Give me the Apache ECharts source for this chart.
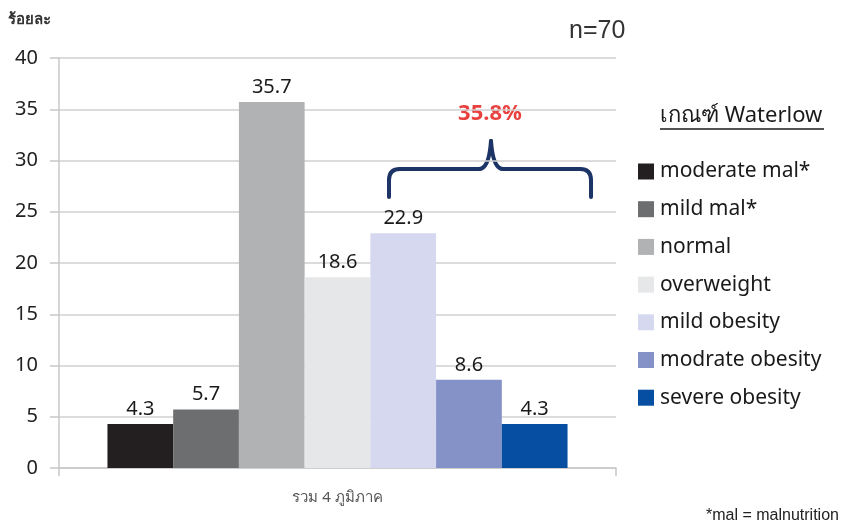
<!DOCTYPE html>
<html>
<head>
<meta charset="utf-8">
<script src="https://cdn.jsdelivr.net/npm/echarts@6/dist/echarts.min.js"></script>
<style>
  html, body { margin: 0; padding: 0; background: #fff; }
  #chart { width: 846px; height: 526px; }
</style>
</head>
<body>
<div id="chart"></div>
<script>
// Waterlow criteria: share of children (%) in each nutrition class, all 4 regions combined
const categories = ['รวม 4 ภูมิภาค'];
const seriesNames = ['moderate mal*', 'mild mal*', 'normal', 'overweight', 'mild obesity', 'modrate obesity', 'severe obesity'];
const seriesValues = [4.3, 5.7, 35.7, 18.6, 22.9, 8.6, 4.3];
const seriesColors = ['#231f20', '#6d6e70', '#b1b2b4', '#e6e7e9', '#d5d8ee', '#8592c8', '#054ea1'];
const yTicks = { min: 0, max: 40, interval: 5 };
const obesityShare = '35.8%';

const FONT = '"Noto Sans", "DejaVu Sans", sans-serif';

const chart = echarts.init(document.getElementById('chart'), null, { renderer: 'canvas' });

const series = seriesNames.map((name, i) => ({
  name: name,
  type: 'bar',
  data: [seriesValues[i]],
  itemStyle: { color: seriesColors[i] },
  barGap: '0%',
  barCategoryGap: '17.4%',
  label: {
    show: true,
    position: 'top',
    distance: 5,
    color: '#1a1a1a',
    fontFamily: FONT,
    fontSize: 20
  }
}));

// curly brace over the obesity classes, built from straight and curved strokes
const braceStyle = { stroke: '#1d3566', lineWidth: 4, lineCap: 'round', fill: null };
const seg = (x1, y1, x2, y2) => ({ type: 'line', shape: { x1, y1, x2, y2 }, style: braceStyle });
const curve = (x1, y1, cpx1, cpy1, x2, y2) => ({ type: 'bezierCurve', shape: { x1, y1, cpx1, cpy1, x2, y2 }, style: braceStyle });
const brace = [
  seg(389, 197, 389, 180),
  curve(389, 180, 389, 169, 400, 169),
  seg(400, 169, 479, 169),
  curve(479, 169, 489, 169, 491, 141),
  curve(491, 141, 493, 169, 503, 169),
  seg(503, 169, 580, 169),
  curve(580, 169, 591, 169, 591, 180),
  seg(591, 180, 591, 197)
];

chart.setOption({
  backgroundColor: '#ffffff',
  animation: false,
  grid: { left: 59, right: 230, top: 58, bottom: 58, containLabel: false },
  legend: {
    orient: 'vertical',
    left: 638,
    top: 161,
    padding: 0,
    icon: 'rect',
    itemWidth: 16,
    itemHeight: 16,
    itemGap: 16.7,
    selectedMode: false,
    data: seriesNames,
    textStyle: { color: '#1a1a1a', fontFamily: FONT, fontSize: 21, lineHeight: 19, padding: [0, 0, 0, 1] }
  },
  xAxis: {
    type: 'category',
    data: categories,
    axisLine: { lineStyle: { color: '#c8c8c8', width: 1.5 } },
    axisTick: { show: true, alignWithLabel: false, length: 8, lineStyle: { color: '#c8c8c8', width: 1.5 } },
    axisLabel: { color: '#555', fontFamily: FONT, fontSize: 15, margin: 22 }
  },
  yAxis: {
    type: 'value',
    min: yTicks.min,
    max: yTicks.max,
    interval: yTicks.interval,
    axisLine: { show: true, lineStyle: { color: '#c8c8c8', width: 1.5 } },
    axisTick: { show: true, length: 9, lineStyle: { color: '#c8c8c8', width: 1.5 } },
    axisLabel: { color: '#222', fontFamily: FONT, fontSize: 20, margin: 21 },
    splitLine: { show: true, lineStyle: { color: '#d0d0d0', width: 1.5 } }
  },
  series: series,
  graphic: [
    { type: 'text', left: 8, top: 12, style: { text: 'ร้อยละ', fill: '#333', font: 'bold 15px ' + FONT } },
    { type: 'text', left: 569, top: 19, style: { text: 'n=70', fill: '#333', font: '25px "Liberation Sans", Arial, sans-serif' } },
    { type: 'text', left: 660, top: 105, style: { text: 'เกณฑ์ Waterlow', fill: '#1a1a1a', font: '22px ' + FONT } },
    { type: 'line', shape: { x1: 660, y1: 129, x2: 824, y2: 129 }, style: { stroke: '#1a1a1a', lineWidth: 1.5 } },
    { type: 'text', left: 706, top: 508, style: { text: '*mal = malnutrition', fill: '#222', font: '16px "Liberation Sans", Arial, sans-serif' } },
    ...brace,
    { type: 'text', x: 490, y: 114, style: { text: obesityShare, fill: '#e8413f', font: 'bold 22px ' + FONT, align: 'center', verticalAlign: 'middle' } }
  ]
});
</script>
</body>
</html>
